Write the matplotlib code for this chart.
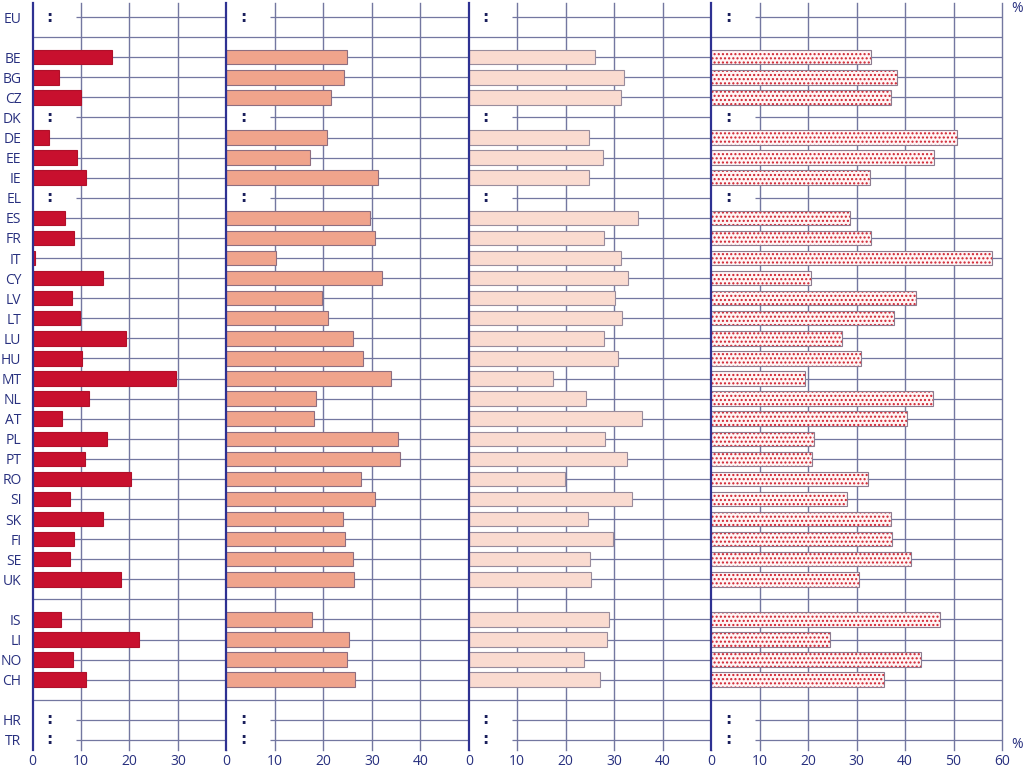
import numpy as np
import matplotlib.pyplot as plt

plt.rcParams['font.family'] = ['Open Sans', 'DejaVu Sans']

# Rows top to bottom ('' = spacer row)
countries = ['EU', '', 'BE', 'BG', 'CZ', 'DK', 'DE', 'EE', 'IE', 'EL', 'ES', 'FR', 'IT',
             'CY', 'LV', 'LT', 'LU', 'HU', 'MT', 'NL', 'AT', 'PL', 'PT', 'RO', 'SI',
             'SK', 'FI', 'SE', 'UK', '', 'IS', 'LI', 'NO', 'CH', '', 'HR', 'TR']

nan = np.nan
# Four series (NaN = not available / spacer)
s1 = [nan, nan, 16.3, 5.4, 10.1, nan, 3.5, 9.1, 11.1, nan, 6.8, 8.6, 0.5,
      14.5, 8.1, 9.8, 19.2, 10.2, 29.6, 11.7, 6.0, 15.4, 10.8, 20.3, 7.7,
      14.6, 8.5, 7.7, 18.3, nan, 5.9, 21.9, 8.3, 11.0, nan, nan, nan]
s2 = [nan, nan, 24.8, 24.3, 21.5, nan, 20.8, 17.3, 31.3, nan, 29.7, 30.6, 10.2,
      32.2, 19.7, 21.0, 26.2, 28.2, 33.9, 18.4, 18.0, 35.4, 35.8, 27.8, 30.7,
      24.0, 24.5, 26.2, 26.3, nan, 17.7, 25.2, 24.9, 26.5, nan, nan, nan]
s3 = [nan, nan, 26.0, 32.1, 31.3, nan, 24.9, 27.7, 24.9, nan, 35.0, 27.9, 31.3,
      32.8, 30.1, 31.6, 27.9, 30.8, 17.4, 24.2, 35.8, 28.1, 32.6, 19.8, 33.7,
      24.5, 29.8, 25.1, 25.2, nan, 29.0, 28.6, 23.8, 27.0, nan, nan, nan]
s4 = [nan, nan, 33.0, 38.3, 37.1, nan, 50.7, 46.0, 32.8, nan, 28.6, 33.0, 57.9,
      20.6, 42.2, 37.8, 26.9, 31.0, 19.3, 45.8, 40.3, 21.3, 20.9, 32.4, 28.1,
      37.0, 37.3, 41.2, 30.4, nan, 47.3, 24.5, 43.2, 35.7, nan, nan, nan]

series = [s1, s2, s3, s4]
xmax = [40, 50, 50, 60]

navy = '#28307f'
grid_c = '#7377a0'
face = ['#c8102e', '#f0a48c', '#fadbd0', '#fff5f5']
edge = ['#b0102a', '#8e6e80', '#998c9c', '#8c7c90']

fig = plt.figure(figsize=(10.24, 7.70), dpi=100)
gs = fig.add_gridspec(1, 4, width_ratios=xmax, left=32.5 / 1024, right=1002 / 1024,
                      bottom=20 / 770, top=1 - 3 / 770, wspace=0)

y = np.arange(len(countries))

for i, (vals, lim) in enumerate(zip(series, xmax)):
    ax = fig.add_subplot(gs[0, i])
    vals = np.array(vals)
    ax.set_xlim(0, lim)
    ax.set_ylim(36.5, -0.7)

    # horizontal row lines (cut short where the ':' sits)
    for yy, c, v in zip(y, countries, vals):
        missing = c != '' and np.isnan(v)
        ax.hlines(yy, 9 if missing else 0, lim, color=grid_c, lw=0.9, zorder=1)
        if missing:
            ax.text(3.5, yy, ':', ha='center', va='center', fontsize=11,
                    fontweight='bold', color='#1a1f5c', family='DejaVu Sans', zorder=3)

    for t in range(10, lim + 1, 10):
        ax.axvline(t, color=grid_c, lw=1.0, zorder=1, clip_on=False)

    if i < 3:
        ax.barh(y, vals, height=0.72, color=face[i], edgecolor=edge[i], lw=0.8, zorder=2)
    else:
        ax.barh(y, vals, height=0.72, color=face[i], edgecolor='#d0202e', lw=0,
                hatch='....', zorder=2)
        ax.barh(y, vals, height=0.72, fill=False, edgecolor=edge[i], lw=0.8, zorder=2)

    for side in ['top', 'bottom', 'right']:
        ax.spines[side].set_visible(False)
    ax.spines['left'].set_color('#2e3192')
    ax.spines['left'].set_linewidth(1.6)

    ticks = list(range(0, lim, 10)) if i < 3 else list(range(0, lim + 1, 10))
    ax.set_xticks(ticks)
    ax.tick_params(axis='x', length=0, pad=3, labelsize=10, labelcolor=navy)

    if i == 0:
        ax.set_yticks(y)
        ax.set_yticklabels(countries)
        ax.tick_params(axis='y', length=0, pad=8, labelsize=10, labelcolor=navy)
    else:
        ax.set_yticks([])

fig.text(1017 / 1024, 1 - 8 / 770, '%', ha='center', va='center', fontsize=10, color=navy)
fig.text(1017 / 1024, 1 - 745 / 770, '%', ha='center', va='center', fontsize=10, color=navy)

plt.savefig('out.png', dpi=100)
